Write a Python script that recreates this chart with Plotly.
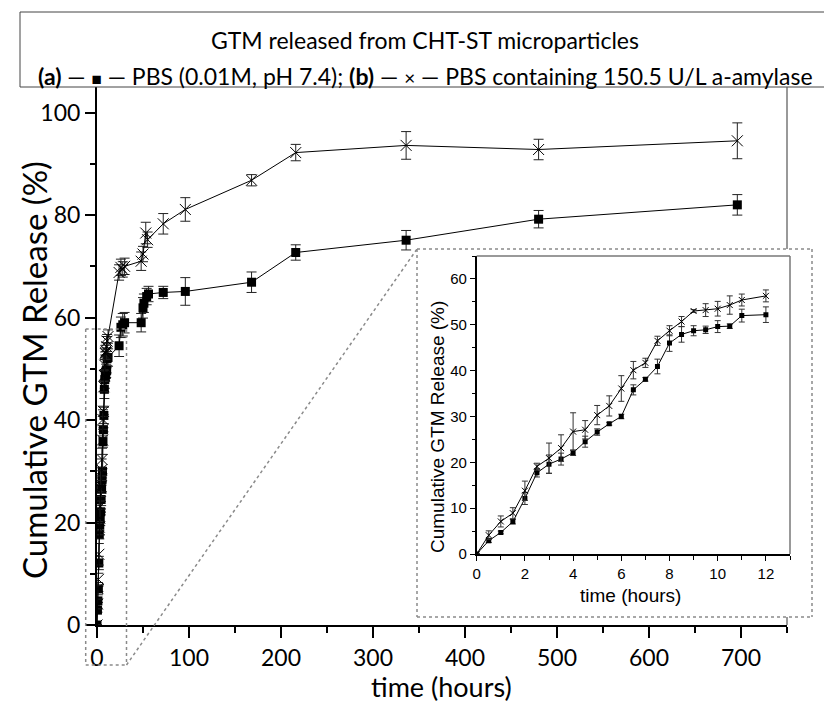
import plotly.graph_objects as go

# ---------------- data ----------------
# early sampling (0-12 h), shared by main plot and inset
T_EARLY = [0, 0.5, 1, 1.5, 2, 2.5, 3, 3.5, 4, 4.5, 5, 5.5, 6, 6.5, 7, 7.5, 8, 8.5, 9, 9.5, 10, 10.5, 11, 12]
A_EARLY = [0, 2.9, 4.7, 7.05, 12.1, 17.7, 19.6, 20.7, 22.1, 24.5, 26.6, 28.4, 30.0, 35.8, 38.1, 40.9, 46.0, 47.9, 48.7, 48.9, 49.6, 49.7, 52.0, 52.2]
A_EARLY_ERR = [0, 0.4, 0.3, 0.5, 1.3, 0.9, 2.0, 1.3, 0.6, 1.2, 0.7, 0.3, 0.5, 1.1, 0.4, 1.6, 1.8, 1.7, 1.1, 0.8, 1.3, 0.5, 1.4, 1.7]
B_EARLY = [0, 4.1, 7.1, 8.9, 13.8, 19.1, 20.9, 23.1, 26.7, 27.1, 30.3, 32.3, 36.1, 40.1, 41.7, 46.5, 48.7, 50.7, 53.0, 53.2, 53.5, 54.3, 55.4, 56.3]
B_EARLY_ERR = [0, 0.95, 1.2, 1.2, 2.1, 0.7, 3.3, 2.9, 4.1, 2.0, 2.1, 2.2, 2.8, 1.9, 1.0, 1.0, 1.1, 1.1, 0.3, 1.4, 1.6, 2.0, 1.3, 1.3]

# later sampling (> 12 h)
T_A_LATE = [24, 26, 28, 30, 48, 50, 51, 54, 56, 72, 96, 168, 216, 336, 480, 696]
A_LATE = [54.5, 58.1, 58.6, 59.0, 59.0, 61.9, 62.8, 64.1, 64.6, 64.9, 65.1, 66.9, 72.7, 75.1, 79.2, 82.0]
A_LATE_ERR = [2.1, 2.0, 2.2, 2.0, 1.8, 2.0, 1.8, 1.6, 1.5, 1.2, 2.7, 2.0, 1.5, 1.9, 1.7, 2.0]
T_B_LATE = [24, 26, 28, 30, 48, 50, 53, 55, 72, 96, 168, 216, 336, 480, 696]
B_LATE = [68.8, 69.8, 69.4, 70.0, 71.0, 72.4, 76.5, 75.2, 78.3, 81.1, 86.8, 92.2, 93.6, 92.8, 94.5]
B_LATE_ERR = [1.5, 1.6, 1.5, 1.6, 1.8, 1.5, 2.1, 1.5, 2.0, 2.3, 1.1, 1.6, 2.7, 2.0, 3.5]

T_A = T_EARLY + T_A_LATE
A_ALL = A_EARLY + A_LATE
A_ALL_ERR = A_EARLY_ERR + A_LATE_ERR
T_B = T_EARLY + T_B_LATE
B_ALL = B_EARLY + B_LATE
B_ALL_ERR = B_EARLY_ERR + B_LATE_ERR

MAIN_XTICKS = [0, 100, 200, 300, 400, 500, 600, 700]
MAIN_YTICKS = [0, 20, 40, 60, 80, 100]
INSET_XTICKS = [0, 2, 4, 6, 8, 10, 12]
INSET_YTICKS = [0, 10, 20, 30, 40, 50, 60]

TITLE = "GTM released from CHT-ST microparticles"
LEGEND_LINE = ("<b>(a)</b> — <span style='font-size:17px'>■</span> — PBS (0.01M, pH 7.4); "
               "<b>(b)</b> — <span style='font-size:19px'>×</span> — PBS containing 150.5 U/L a-amylase")
Y_TITLE = "Cumulative GTM Release (%)"
X_TITLE = "time (hours)"

# ---------------- geometry (pixels -> paper) ----------------
W, H = 824, 709
ML, MR, MT, MB = 97, 12, 87, 84
PW = W - ML - MR
PH = H - MT - MB


def px(x):
    return (x - ML) / PW


def py(y):
    return (H - MB - y) / PH


MAIN_FONT = "Lato"
INSET_FONT = "Liberation Sans"

fig = go.Figure()

# main traces
fig.add_trace(go.Scatter(
    x=T_A, y=A_ALL, mode="lines+markers", xaxis="x", yaxis="y",
    line=dict(color="black", width=1),
    marker=dict(symbol="square", size=9, color="black"),
    error_y=dict(type="data", array=A_ALL_ERR, color="#222", thickness=1, width=5),
    showlegend=False))
fig.add_trace(go.Scatter(
    x=T_B, y=B_ALL, mode="lines+markers", xaxis="x", yaxis="y",
    line=dict(color="black", width=1),
    marker=dict(symbol="x-thin-open", size=11, color="black", line=dict(width=1, color="black")),
    error_y=dict(type="data", array=B_ALL_ERR, color="#222", thickness=1, width=5),
    showlegend=False))

# inset traces
fig.add_trace(go.Scatter(
    x=T_EARLY, y=A_EARLY, mode="lines+markers", xaxis="x2", yaxis="y2",
    line=dict(color="black", width=1),
    marker=dict(symbol="square", size=5, color="black"),
    error_y=dict(type="data", array=A_EARLY_ERR, color="#333", thickness=1, width=3),
    showlegend=False))
fig.add_trace(go.Scatter(
    x=T_EARLY, y=B_EARLY, mode="lines+markers", xaxis="x2", yaxis="y2",
    line=dict(color="black", width=1),
    marker=dict(symbol="x-thin-open", size=6, color="black", line=dict(width=1, color="black")),
    error_y=dict(type="data", array=B_EARLY_ERR, color="#333", thickness=1, width=3),
    showlegend=False))

main_tick_font = dict(family=MAIN_FONT, size=23, color="black")
inset_tick_font = dict(family=INSET_FONT, size=15, color="black")

fig.update_layout(
    width=W, height=H,
    margin=dict(l=ML, r=MR, t=MT, b=MB, pad=0),
    paper_bgcolor="white", plot_bgcolor="rgba(0,0,0,0)",
    xaxis=dict(domain=[0, px(787)], range=[0, 750], anchor="y",
               showline=True, linecolor="black", linewidth=2,
               ticks="outside", ticklen=11, tickwidth=2, tickcolor="black",
               tickvals=MAIN_XTICKS, tickfont=main_tick_font,
               minor=dict(dtick=50, tick0=0, ticks="outside", ticklen=6, tickwidth=2, tickcolor="black"),
               showgrid=False, zeroline=False),
    yaxis=dict(domain=[0, 1], range=[0, 105], anchor="x",
               showline=True, linecolor="black", linewidth=2,
               ticks="outside", ticklen=10, tickwidth=2, tickcolor="black",
               tickvals=MAIN_YTICKS, tickfont=main_tick_font,
               minor=dict(dtick=10, tick0=0, ticks="outside", ticklen=5, tickwidth=2, tickcolor="black"),
               showgrid=False, zeroline=False),
    xaxis2=dict(domain=[px(476.7), px(790)], range=[0, 13], anchor="y2",
                showline=True, linecolor="black", linewidth=1.5,
                ticks="outside", ticklen=5, tickwidth=1.2, tickcolor="black",
                tickvals=INSET_XTICKS, tickfont=inset_tick_font,
                minor=dict(dtick=1, tick0=0, ticks="outside", ticklen=4, tickwidth=1.2, tickcolor="black"),
                showgrid=False, zeroline=False),
    yaxis2=dict(domain=[py(554), py(256)], range=[0, 65], anchor="x2",
                showline=True, linecolor="black", linewidth=1.5,
                ticks="outside", ticklen=5, tickwidth=1.2, tickcolor="black",
                tickvals=INSET_YTICKS, tickfont=inset_tick_font,
                minor=dict(dtick=5, tick0=0, ticks="outside", ticklen=3, tickwidth=1.2, tickcolor="black"),
                showgrid=False, zeroline=False),
)

shapes = []
DOT = dict(color="#8a8a8a", width=1.5, dash="dot")


def line(x0, y0, x1, y1, **st):
    shapes.append(dict(type="line", xref="paper", yref="paper",
                       x0=px(x0), y0=py(y0), x1=px(x1), y1=py(y1), line=st))


# legend / title box
line(20, 12, 830, 12, color="#444", width=1)
line(20, 12, 20, 87, color="#444", width=1)
line(20, 87, 830, 87, color="#444", width=1)
# main frame right side (interrupted by inset box)
line(787, 87, 787, 249, color="#555", width=1.2)
line(787, 617, 787, 625, color="#555", width=1.2)
# zoom rectangle around early data
line(85.7, 329, 126.5, 329, **DOT)
line(85.7, 329, 85.7, 665, **DOT)
line(126.5, 329, 126.5, 665, **DOT)
line(85.7, 665, 126.5, 665, **DOT)
# connector
line(126.5, 665, 417, 249, **DOT)
# inset dotted box
line(417, 249, 812, 249, **DOT)
line(417, 249, 417, 617, **DOT)
line(812, 249, 812, 617, **DOT)
line(417, 617, 812, 617, **DOT)
# inset grey top/right frame
line(476.7, 256, 790, 256, color="#777", width=1.5)
line(790, 256, 790, 554, color="#777", width=1.5)

fig.update_layout(shapes=shapes)

annotations = [
    dict(text=TITLE, x=px(425), y=py(40), xref="paper", yref="paper", showarrow=False,
         xanchor="center", yanchor="middle", font=dict(family=MAIN_FONT, size=23, color="black")),
    dict(text=LEGEND_LINE, x=px(425), y=py(76), xref="paper", yref="paper", showarrow=False,
         xanchor="center", yanchor="middle", font=dict(family=MAIN_FONT, size=23, color="black")),
    dict(text=X_TITLE, x=px(441.7), y=py(686), xref="paper", yref="paper", showarrow=False,
         xanchor="center", yanchor="middle", font=dict(family=MAIN_FONT, size=27, color="black")),
    dict(text=Y_TITLE, x=px(34), y=py(370), xref="paper", yref="paper", showarrow=False,
         textangle=-90, xanchor="center", yanchor="middle", font=dict(family=MAIN_FONT, size=33, color="black")),
    dict(text=X_TITLE, x=px(630), y=py(595), xref="paper", yref="paper", showarrow=False,
         xanchor="center", yanchor="middle", font=dict(family=INSET_FONT, size=19, color="black")),
    dict(text=Y_TITLE, x=px(437), y=py(427), xref="paper", yref="paper", showarrow=False,
         textangle=-90, xanchor="center", yanchor="middle", font=dict(family=INSET_FONT, size=19, color="black")),
]
fig.update_layout(annotations=annotations)

fig.write_html("out.html")
